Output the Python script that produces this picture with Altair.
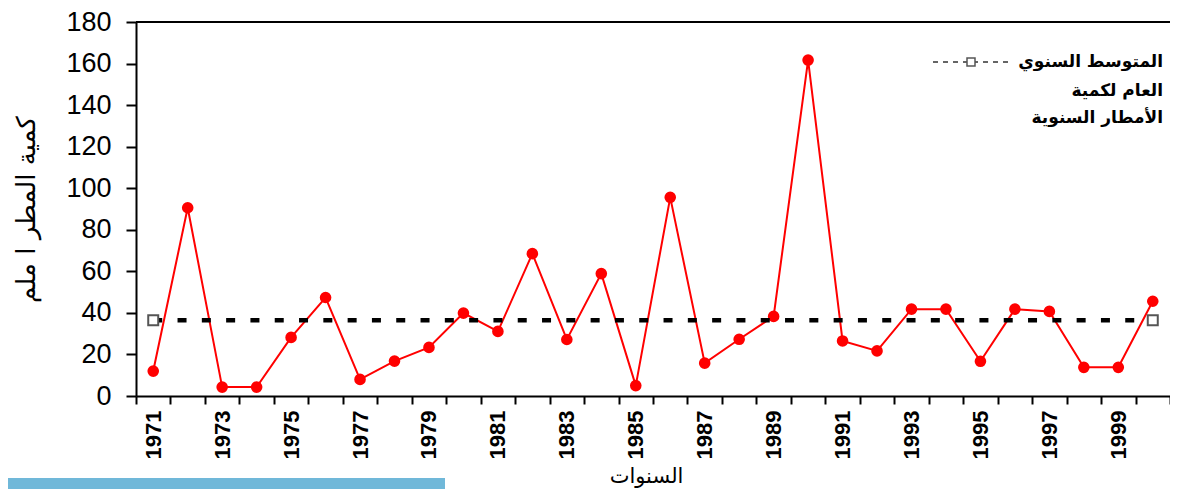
import altair as alt
import pandas as pd

# ---- data ----
years = list(range(1971, 2001))
rain_mm = [12.0, 90.6, 4.3, 4.3, 28.2, 47.4, 8.0, 16.8, 23.4, 39.9,
           31.1, 68.5, 27.2, 58.9, 5.0, 95.6, 15.8, 27.3, 38.3, 161.7,
           26.5, 21.7, 41.8, 41.8, 16.7, 41.8, 40.7, 13.8, 13.8, 45.6]
mean_years = [1971, 2000]
mean_values = [36.5, 36.5]
y_ticks = [0, 20, 40, 60, 80, 100, 120, 140, 160, 180]

legend_lines = ["المتوسط السنوي", "العام لكمية", "الأمطار السنوية"]
x_title = "السنوات"
y_title = "كمية المطر ا ملم"

W = 1034
H = 374

df = pd.DataFrame({"year": years, "value": rain_mm})
mean_df = pd.DataFrame({"year": mean_years, "value": mean_values})
one = pd.DataFrame({"k": [0]})

X = alt.X(
    "year:O",
    scale=alt.Scale(type="band", paddingInner=0, paddingOuter=0),
    axis=alt.Axis(
        title=x_title,
        titleFont="DejaVu Sans",
        titleFontSize=21,
        titleFontWeight="normal",
        titleColor="black",
        titleX=510,
        titleY=80,
        titleBaseline="middle",
        labelExpr="datum.value % 2 == 1 ? datum.label : ''",
        labelAngle=-90,
        labelFont="Liberation Sans",
        labelFontWeight="bold",
        labelFontSize=22,
        labelColor="black",
        labelPadding=6,
        labelOverlap=False,
        tickBand="extent",
        tickSize=8,
        tickWidth=2,
        tickColor="black",
        domainColor="black",
        domainWidth=2,
    ),
)
Y = alt.Y(
    "value:Q",
    scale=alt.Scale(domain=[0, 180], nice=False, zero=True),
    axis=alt.Axis(
        title=y_title,
        titleFont="DejaVu Sans",
        titleFontSize=26,
        titleFontWeight="normal",
        titleColor="black",
        titlePadding=26,
        values=y_ticks,
        grid=False,
        labelFont="Liberation Sans",
        labelFontSize=27,
        labelColor="black",
        labelPadding=15,
        tickSize=10,
        tickWidth=2,
        tickColor="black",
        domainColor="black",
        domainWidth=2,
    ),
)

rain_line = alt.Chart(df).mark_line(color="#FF0000", strokeWidth=2).encode(x=X, y=Y)
rain_pts = alt.Chart(df).mark_circle(color="#FF0000", size=135, opacity=1).encode(x=X, y=Y)
mean_line = alt.Chart(mean_df).mark_line(
    color="black", strokeWidth=4.5, strokeDash=[9, 15.3], strokeCap="butt"
).encode(x=X, y=Y)
mean_pts = alt.Chart(mean_df).mark_point(
    shape="square", size=100, stroke="#555555", strokeWidth=2,
    fill="white", filled=False, opacity=1
).encode(x=X, y=Y)

# top border of the plot area
top_rule = alt.Chart(one).mark_rule(color="black", strokeWidth=2).encode(
    x=alt.value(0), x2=alt.value(W), y=alt.value(0)
)

# legend (drawn by hand, top right)
leg_rule = alt.Chart(one).mark_rule(
    color="#333333", strokeWidth=1.5, strokeDash=[5, 5]
).encode(x=alt.value(797), x2=alt.value(874), y=alt.value(40))
leg_sq = alt.Chart(one).mark_point(
    shape="square", size=64, stroke="#555555", strokeWidth=1.5,
    fill="white", filled=False, opacity=1
).encode(x=alt.value(835), y=alt.value(40))
leg_texts = [
    alt.Chart(one).mark_text(
        align="right", baseline="middle", font="DejaVu Sans",
        fontWeight="bold", fontSize=17, color="black"
    ).encode(x=alt.value(1027), y=alt.value(yy), text=alt.value(t))
    for t, yy in zip(legend_lines, [40, 69, 96])
]

blue_bar = alt.Chart(one).mark_rect(color="#70B8D9").encode(
    x=alt.value(-128), x2=alt.value(309), y=alt.value(456), y2=alt.value(480)
)

chart = alt.layer(
    blue_bar, top_rule, rain_line, rain_pts, mean_line, mean_pts, leg_rule, leg_sq, *leg_texts
).properties(
    width=W,
    height=H,
    padding={"left": 128, "top": 14, "right": 0, "bottom": 93},
    autosize=alt.AutoSizeParams(type="none"),
).configure_view(strokeWidth=0).configure(background="white")

chart.save("out.html", embed_options={"renderer": "svg", "actions": False})
